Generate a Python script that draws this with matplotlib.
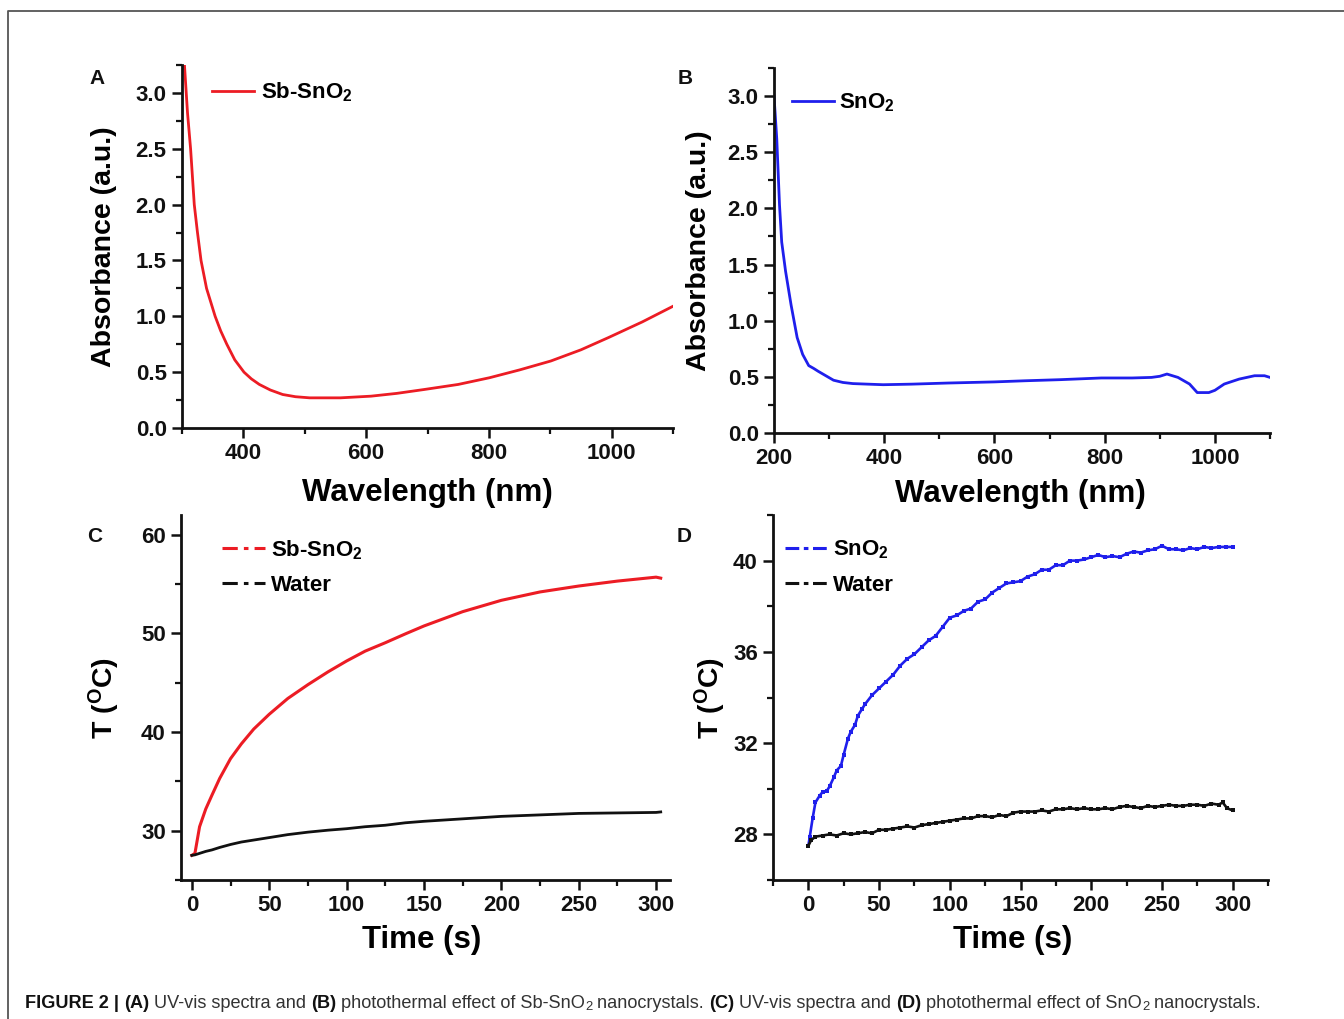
import matplotlib
matplotlib.use("Agg")
import matplotlib.pyplot as plt
from matplotlib.lines import Line2D
from matplotlib.ticker import MultipleLocator, FormatStrFormatter
from matplotlib import font_manager

# ---------------- data ----------------
wl_A = [304, 309, 314, 320, 325, 331, 340, 354, 363, 373, 386, 401, 413, 426, 444, 464, 485,
        508, 558, 608, 650, 695, 750, 801, 850, 901, 950, 995, 1050, 1100]
abs_A = [3.25, 2.82, 2.50, 2.00, 1.76, 1.50, 1.25, 1.00, 0.87, 0.75, 0.61, 0.50, 0.44, 0.39,
         0.34, 0.30, 0.28, 0.27, 0.27, 0.285, 0.31, 0.345, 0.39, 0.45, 0.52, 0.60, 0.70, 0.81,
         0.95, 1.09]

wl_B = [200, 202, 205, 210, 214, 221, 231, 242, 252, 263, 272, 280, 294, 308, 325, 343, 370, 398,
        450, 516, 600, 655, 720, 794, 850, 885, 900, 913, 933, 954, 968, 989, 1000, 1017, 1044,
        1072, 1090, 1100]
abs_B = [3.0, 2.85, 2.62, 2.03, 1.70, 1.44, 1.14, 0.85, 0.70, 0.60, 0.575, 0.55, 0.51, 0.47, 0.45,
         0.44, 0.435, 0.43, 0.435, 0.445, 0.455, 0.465, 0.475, 0.49, 0.49, 0.495, 0.505, 0.525,
         0.495, 0.436, 0.36, 0.36, 0.38, 0.436, 0.48, 0.51, 0.51, 0.495]

t_C = [0, 2, 5, 9, 13, 18, 25, 32, 40, 50, 62, 75, 88, 100, 112, 125, 138, 150, 175, 200, 225,
       250, 275, 300, 303]
T_C_sb = [27.5, 27.7, 30.4, 32.2, 33.6, 35.3, 37.3, 38.8, 40.3, 41.8, 43.4, 44.8, 46.1, 47.2,
          48.2, 49.05, 49.95, 50.75, 52.2, 53.35, 54.2, 54.8, 55.3, 55.7, 55.6]
T_C_water = [27.5, 27.55, 27.7, 27.9, 28.05, 28.3, 28.6, 28.85, 29.05, 29.3, 29.6, 29.85,
             30.05, 30.2, 30.4, 30.55, 30.8, 30.95, 31.2, 31.45, 31.6, 31.75, 31.8, 31.85, 31.9]

t_D_sn = [0, 1, 3, 5, 8, 10, 13, 15, 18, 20, 23, 25, 28, 30, 33, 35, 38, 40, 45, 50, 55, 60, 65,
          70, 75, 80, 85, 90, 95, 100, 105, 110, 115, 120, 125, 130, 135, 140, 145, 150, 155,
          160, 165, 170, 175, 180, 185, 190, 195, 200, 205, 210, 215, 220, 225, 230, 235, 240,
          245, 250, 255, 260, 265, 270, 275, 280, 285, 290, 295, 300]
T_D_sn = [27.5, 27.9, 28.7, 29.4, 29.7, 29.85, 29.9, 30.1, 30.5, 30.8, 31.0, 31.5, 32.2, 32.5,
          32.8, 33.2, 33.5, 33.7, 34.1, 34.4, 34.7, 35.0, 35.4, 35.7, 35.9, 36.2, 36.5, 36.7,
          37.1, 37.5, 37.6, 37.8, 37.9, 38.2, 38.3, 38.6, 38.8, 39.0, 39.05, 39.1, 39.3, 39.4,
          39.6, 39.6, 39.8, 39.8, 40.0, 40.0, 40.05, 40.15, 40.25, 40.15, 40.2, 40.15, 40.3,
          40.4, 40.35, 40.45, 40.5, 40.65, 40.5, 40.5, 40.45, 40.55, 40.5, 40.6, 40.55, 40.6,
          40.6, 40.6]

t_D_w = [0, 2, 5, 10, 15, 20, 25, 30, 35, 40, 45, 50, 55, 60, 65, 70, 75, 80, 85, 90, 95, 100,
         105, 110, 115, 120, 125, 130, 135, 140, 145, 150, 155, 160, 165, 170, 175, 180, 185,
         190, 195, 200, 205, 210, 215, 220, 225, 230, 235, 240, 245, 250, 255, 260, 265, 270,
         275, 280, 285, 290, 293, 296, 300]
T_D_w = [27.5, 27.75, 27.9, 27.95, 28.0, 27.95, 28.05, 28.0, 28.05, 28.1, 28.05, 28.2, 28.2,
         28.25, 28.3, 28.35, 28.3, 28.4, 28.45, 28.5, 28.55, 28.6, 28.65, 28.7, 28.7, 28.8, 28.8,
         28.75, 28.85, 28.8, 28.95, 29.0, 29.0, 29.0, 29.05, 29.0, 29.1, 29.1, 29.15, 29.1, 29.15,
         29.1, 29.1, 29.15, 29.1, 29.2, 29.25, 29.2, 29.15, 29.25, 29.2, 29.25, 29.3, 29.25,
         29.25, 29.3, 29.3, 29.25, 29.35, 29.3, 29.4, 29.15, 29.05]

label_A = "Sb-SnO$_2$"
label_B = "SnO$_2$"
label_water = "Water"
caption_parts = [
    ("FIGURE 2 | ", "bold"), ("(A)", "bold"), (" UV-vis spectra and ", "normal"),
    ("(B)", "bold"), (" photothermal effect of Sb-SnO", "normal"), ("2", "sub"),
    (" nanocrystals. ", "normal"), ("(C)", "bold"), (" UV-vis spectra and ", "normal"),
    ("(D)", "bold"), (" photothermal effect of SnO", "normal"), ("2", "sub"),
    (" nanocrystals.", "normal"),
]

# ---------------- style ----------------
FONT = "Liberation Sans"
plt.rcParams["font.family"] = [FONT, "DejaVu Sans"]
plt.rcParams["font.weight"] = "bold"
plt.rcParams["mathtext.fontset"] = "custom"
plt.rcParams["mathtext.rm"] = FONT + ":bold"
plt.rcParams["mathtext.bf"] = FONT + ":bold"
plt.rcParams["mathtext.it"] = FONT + ":bold"
plt.rcParams["mathtext.default"] = "bf"

RED = "#ec1c24"
BLUE = "#1f1fec"
BLACK = "#111111"
TICK_FS = 16
XLAB_FS = 22.5
LEG_FS = 16

W, H = 1344, 1019
fig = plt.figure(figsize=(W / 100, H / 100), dpi=100)


def px_axes(l, t, r, b):
    ax = fig.add_axes([l / W, 1 - b / H, (r - l) / W, (b - t) / H])
    ax.patch.set_alpha(0)
    return ax


def style(ax):
    for s in ("top", "right"):
        ax.spines[s].set_visible(False)
    for s in ("left", "bottom"):
        ax.spines[s].set_linewidth(2.0)
        ax.spines[s].set_color(BLACK)
    ax.tick_params(which="major", direction="out", length=7, width=1.8, labelsize=TICK_FS,
                   pad=4, colors=BLACK)
    ax.tick_params(which="minor", direction="out", length=4.5, width=1.6, colors=BLACK)
    for lab in ax.get_xticklabels() + ax.get_yticklabels():
        lab.set_fontweight("bold")


axA = px_axes(182, 65, 673, 428)
axB = px_axes(774, 68, 1270, 433)
axC = px_axes(181, 515, 670, 880)
axD = px_axes(773, 515, 1268, 880)

leg_kw = dict(frameon=False, fontsize=LEG_FS, borderaxespad=0, borderpad=0)

# ---- A ----
axA.plot(wl_A, abs_A, color=RED, lw=2.0, label=label_A)
axA.set_xlim(300, 1100)
axA.set_ylim(0, 3.25)
axA.xaxis.set_minor_locator(MultipleLocator(100))
axA.yaxis.set_minor_locator(MultipleLocator(0.25))
axA.set_xticks([400, 600, 800, 1000])
axA.set_yticks([0, 0.5, 1.0, 1.5, 2.0, 2.5, 3.0])
axA.yaxis.set_major_formatter(FormatStrFormatter("%.1f"))
axA.set_xlabel("Wavelength (nm)", fontsize=XLAB_FS, fontweight="bold", va="top")
axA.set_ylabel("Absorbance (a.u.)", fontsize=20.5, fontweight="bold")
axA.xaxis.set_label_coords(0.499, -0.138)
axA.yaxis.set_label_coords(-0.132, 0.5)
axA.legend(loc="center left", bbox_to_anchor=(0.061, 0.925), handlelength=1.9,
           handletextpad=0.3, **leg_kw)

# ---- B ----
axB.plot(wl_B, abs_B, color=BLUE, lw=2.0, label=label_B)
axB.set_xlim(200, 1100)
axB.set_ylim(0, 3.25)
axB.xaxis.set_minor_locator(MultipleLocator(100))
axB.yaxis.set_minor_locator(MultipleLocator(0.25))
axB.set_xticks([200, 400, 600, 800, 1000])
axB.set_yticks([0, 0.5, 1.0, 1.5, 2.0, 2.5, 3.0])
axB.yaxis.set_major_formatter(FormatStrFormatter("%.1f"))
axB.set_xlabel("Wavelength (nm)", fontsize=XLAB_FS, fontweight="bold", va="top")
axB.set_ylabel("Absorbance (a.u.)", fontsize=20.5, fontweight="bold")
axB.xaxis.set_label_coords(0.496, -0.126)
axB.yaxis.set_label_coords(-0.125, 0.5)
axB.legend(loc="center left", bbox_to_anchor=(0.036, 0.905), handlelength=1.9,
           handletextpad=0.2, **leg_kw)

# ---- C ----
axC.plot(t_C, T_C_sb, color=RED, lw=2.2)
axC.plot(t_C, T_C_water, color=BLACK, lw=2.0)
axC.set_xlim(-7, 309)
axC.set_ylim(25, 62)
axC.xaxis.set_minor_locator(MultipleLocator(25))
axC.yaxis.set_minor_locator(MultipleLocator(5))
axC.set_xticks([0, 50, 100, 150, 200, 250, 300])
axC.set_yticks([30, 40, 50, 60])
axC.set_xlabel("Time (s)", fontsize=XLAB_FS, fontweight="bold", va="top")
axC.set_ylabel("T ($^{O}$C)", fontsize=20.5, fontweight="bold")
axC.xaxis.set_label_coords(0.493, -0.123)
axC.yaxis.set_label_coords(-0.121, 0.5)
hC = [Line2D([], [], color=RED, lw=2.2, ls=(0, (5, 2, 1.5, 2))),
      Line2D([], [], color=BLACK, lw=2.2, ls=(0, (5, 2, 1.5, 2)))]
axC.legend(hC, [label_A, label_water], loc="upper left", bbox_to_anchor=(0.084, 0.937),
           handlelength=1.95, handletextpad=0.25, labelspacing=0.6, **leg_kw)

# ---- D ----
axD.plot(t_D_sn, T_D_sn, color=BLUE, lw=1.9, marker="s", ms=2.4, mew=0)
axD.plot(t_D_w, T_D_w, color=BLACK, lw=1.9, marker="s", ms=2.4, mew=0)
axD.set_xlim(-25, 325)
axD.set_ylim(26, 42)
axD.xaxis.set_minor_locator(MultipleLocator(25))
axD.yaxis.set_minor_locator(MultipleLocator(2))
axD.set_xticks([0, 50, 100, 150, 200, 250, 300])
axD.set_yticks([28, 32, 36, 40])
axD.set_xlabel("Time (s)", fontsize=XLAB_FS, fontweight="bold", va="top")
axD.set_ylabel("T ($^{O}$C)", fontsize=20.5, fontweight="bold")
axD.xaxis.set_label_coords(0.485, -0.123)
axD.yaxis.set_label_coords(-0.091, 0.5)
hD = [Line2D([], [], color=BLUE, lw=2.2, ls=(0, (4.5, 1.5, 1.5, 1.5))),
      Line2D([], [], color=BLACK, lw=2.2, ls=(0, (4.5, 1.5, 1.5, 1.5)))]
axD.legend(hD, ["SnO$_\\mathbf{2}$", label_water], loc="upper left",
           bbox_to_anchor=(0.024, 0.935), handlelength=1.9, handletextpad=0.25,
           labelspacing=0.6, **leg_kw)

for ax in (axA, axB, axC, axD):
    style(ax)

# panel letters
for letter, (x, y) in zip("ABCD", [(97, 79), (685, 78), (95, 537), (684, 537)]):
    fig.text(x / W, 1 - y / H, letter, fontsize=15, fontweight="bold", ha="center",
             va="center", color=BLACK)

# figure frame (top and left lines)
fig.add_artist(Line2D([8 / W, 8 / W, 1.0], [0.0, 1 - 10.5 / H, 1 - 10.5 / H],
                      transform=fig.transFigure, color="#555555", lw=1.3))

# ---------------- caption ----------------
names = {f.name for f in font_manager.fontManager.ttflist}
cap_font = "Liberation Sans Narrow" if "Liberation Sans Narrow" in names else FONT
renderer = fig.canvas.get_renderer()


def piece_width(s, size, weight):
    t1 = fig.text(0, 0, s + "|", fontsize=size, fontweight=weight, family=cap_font)
    t2 = fig.text(0, 0, "|", fontsize=size, fontweight=weight, family=cap_font)
    w = t1.get_window_extent(renderer).width - t2.get_window_extent(renderer).width
    t1.remove()
    t2.remove()
    return w


def layout(size, draw=False):
    x = 25.0
    y = 1003.0
    for s, kind in caption_parts:
        if kind == "sub":
            sz, wt, dy, col = size * 0.72, "normal", 4.0, "#333333"
        elif kind == "bold":
            sz, wt, dy, col = size, "bold", 0.0, "#111111"
        else:
            sz, wt, dy, col = size, "normal", 0.0, "#333333"
        w = piece_width(s, sz, wt)
        if draw:
            fig.text(x / W, 1 - (y + dy) / H, s, fontsize=sz, fontweight=wt, family=cap_font,
                     color=col, ha="left", va="center")
        x += w
    return x - 25.0


base = 12.0
total = layout(base)
size = base * 1240.0 / total
layout(size, draw=True)

fig.savefig("out.png", dpi=100)
